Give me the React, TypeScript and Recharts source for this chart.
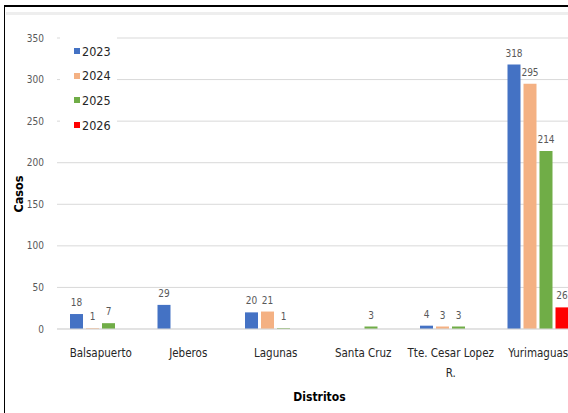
import { Bar, BarChart, CartesianGrid, LabelList, Legend, XAxis, YAxis } from 'recharts';

const distritos = ['Balsapuerto', 'Jeberos', 'Lagunas', 'Santa Cruz', 'Tte. Cesar Lopez R.', 'Yurimaguas'];
// tick labels as they wrap in the original
const distritoLines = [['Balsapuerto'], ['Jeberos'], ['Lagunas'], ['Santa Cruz'], ['Tte. Cesar Lopez', 'R.'], ['Yurimaguas']];
const casos2023 = [18, 29, 20, 0, 4, 318];
const casos2024 = [1, 0, 21, 0, 3, 295];
const casos2025 = [7, 0, 1, 3, 3, 214];
const casos2026 = [0, 0, 0, 0, 0, 26];
const years = ['2023', '2024', '2025', '2026'];
const colors = ['#4472C4', '#F4B183', '#70AD47', '#FF0000'];
const yTicks = [0, 50, 100, 150, 200, 250, 300, 350];

const FONT = "'DejaVu Sans Condensed', 'Liberation Sans', sans-serif";

const data = distritos.map((name, i) => ({
  name,
  y2023: casos2023[i],
  y2024: casos2024[i],
  y2025: casos2025[i],
  y2026: casos2026[i],
}));

const CatTick = (props: any) => {
  const { x, y, payload } = props;
  const lines = distritoLines[distritos.indexOf(payload.value)] || [payload.value];
  return (
    <text x={x} y={y + 9} textAnchor="middle" fontFamily={FONT} fontSize={11.5} fill="#262626">
      {lines.map((ln, i) => (
        <tspan key={ln} x={x} dy={i === 0 ? 0 : 20}>
          {ln}
        </tspan>
      ))}
    </text>
  );
};

const LegendBox = () => (
  <div style={{ background: '#fff', paddingTop: 2, fontFamily: FONT, fontSize: 12.5, color: '#262626' }}>
    {years.map((yr, i) => (
      <div key={yr} style={{ height: 24.6, display: 'flex', alignItems: 'center' }}>
        <span style={{ width: 6, height: 6, background: colors[i], marginLeft: 14, marginRight: 2 }} />
        <span>{yr}</span>
      </div>
    ))}
  </div>
);

const hideZero = (v: any) => (v ? v : '');

export default function App() {
  return (
    <div style={{ position: 'absolute', left: 0, top: 0, width: 568, height: 413, overflow: 'hidden', background: '#fff' }}>
      <div style={{ position: 'absolute', left: 4, top: 5, width: 700, height: 500, borderTop: '2px solid #000', borderLeft: '1.5px solid #000' }} />
      <div style={{ position: 'absolute', left: 6, top: 12, width: 700, height: 3, background: '#eeeeee' }} />
      <div style={{ position: 'absolute', left: 0, top: 0 }}>
        <BarChart
          width={600}
          height={413}
          data={data}
          margin={{ top: 38, right: 18, bottom: 24, left: 0 }}
          barCategoryGap={13}
          barGap={3}
        >
          <CartesianGrid vertical={false} stroke="#d9d9d9" />
          <XAxis
            dataKey="name"
            height={60}
            axisLine={{ stroke: '#d9d9d9' }}
            tickLine={false}
            tickSize={0}
            tickMargin={19}
            interval={0}
            tick={<CatTick />}
            label={{
              content: () => (
                <text x={319.5} y={401} textAnchor="middle" fontFamily={FONT} fontSize={12} fontWeight="bold" fill="#000">
                  Distritos
                </text>
              ),
            }}
          />
          <YAxis
            width={57}
            domain={[0, 350]}
            ticks={yTicks}
            axisLine={false}
            tickLine={false}
            tickSize={0}
            tickMargin={13}
            tick={{ fontFamily: FONT, fontSize: 10, fill: '#595959' }}
            label={{
              content: () => (
                <text
                  x={23}
                  y={194}
                  transform="rotate(-90, 23, 194)"
                  textAnchor="middle"
                  fontFamily={FONT}
                  fontSize={12.5}
                  fontWeight="bold"
                  fill="#000"
                >
                  Casos
                </text>
              ),
            }}
          />
          <Legend
            layout="vertical"
            verticalAlign="middle"
            align="center"
            wrapperStyle={{ left: 60, top: 37, width: 57 }}
            content={() => <LegendBox />}
          />
          {years.map((yr, i) => (
            <Bar key={yr} dataKey={`y${yr}`} name={yr} fill={colors[i]} isAnimationActive={false}>
              <LabelList
                dataKey={`y${yr}`}
                position="top"
                offset={8}
                formatter={hideZero}
                style={{ fontFamily: FONT, fontSize: 10, fill: '#595959' }}
              />
            </Bar>
          ))}
        </BarChart>
      </div>
    </div>
  );
}
